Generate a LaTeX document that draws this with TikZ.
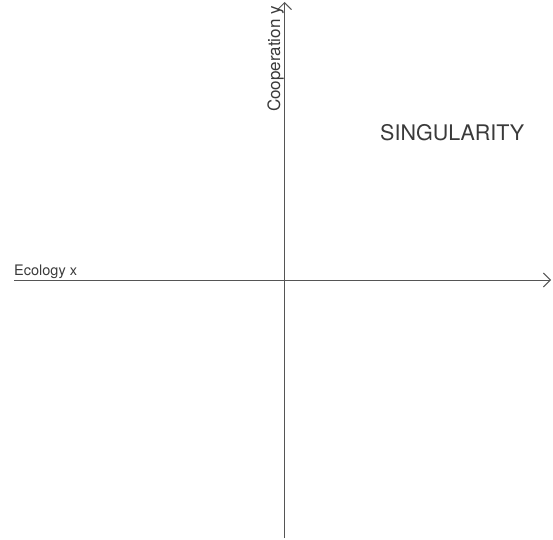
\documentclass[tikz,border=0pt]{standalone}
\usepackage{fontspec}
\setmainfont{TeX Gyre Heros}
\usetikzlibrary{arrows.meta}
\definecolor{axisgray}{HTML}{555555}
\definecolor{labelgray}{HTML}{3A3A3A}
\tikzset{
  axis/.style={draw=axisgray, line width=0.9pt, -{Straight Barb[length=7pt, width=14pt]}},
  axislabel/.style={text=labelgray, inner sep=0pt, font=\fontsize{14.5}{16}\selectfont},
}

\begin{document}
\begin{tikzpicture}[x=1pt, y=1pt]
  \useasboundingbox (0,0) rectangle (553,539);

  \coordinate (xstart) at (14,259);
  \coordinate (xend) at (551,259);
  \coordinate (ystart) at (284.5,1);
  \coordinate (yend) at (284.5,537);

  \draw [axis] (xstart) -- (xend);
  \draw [axis] (ystart) -- (yend);

  \node [axislabel, anchor=base west] (ecology) at (14,264) {Ecology x};
  \node [axislabel, anchor=base east, rotate=90,
         font=\fontsize{17}{19}\selectfont] (cooperation) at (280,533) {Cooperation y};
  \node [text=labelgray, inner sep=0pt, anchor=base west,
         font=\fontsize{21.5}{24}\selectfont] (singularity) at (380,399) {SINGULARITY};
\end{tikzpicture}
\end{document}
